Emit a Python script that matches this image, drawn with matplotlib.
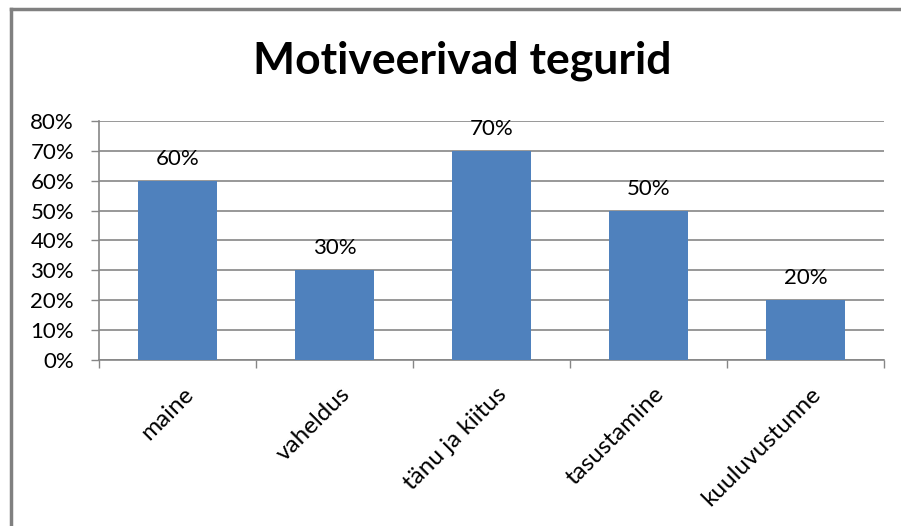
import matplotlib.pyplot as plt
from matplotlib.ticker import FuncFormatter
from matplotlib.lines import Line2D

# chart values
categories = ['maine', 'vaheldus', 'tänu ja kiitus', 'tasustamine', 'kuuluvustunne']
shares = [60, 30, 70, 50, 20]
y_ticks = [0, 10, 20, 30, 40, 50, 60, 70, 80]

BAR_COLOR = '#4F81BD'
GRID_COLOR = '#868686'

plt.rcParams['font.family'] = ['Lato', 'DejaVu Sans']

fig = plt.figure(figsize=(9.01, 5.26), dpi=100)
ax = fig.add_axes([0.110, 0.3156, 0.871, 0.4544])

x = list(range(len(categories)))
ax.bar(x, shares, width=0.5, color=BAR_COLOR, zorder=3)

for xi, v in zip(x, shares):
    ax.text(xi, v + 4, f'{v}%', ha='center', va='bottom', fontsize=16, zorder=4)

ax.set_xlim(-0.5, len(categories) - 0.5)
ax.set_ylim(0, 80)
ax.set_yticks(y_ticks)
ax.yaxis.set_major_formatter(FuncFormatter(lambda v, p: f'{v:.0f}%'))
ax.tick_params(axis='y', labelsize=16, length=6, width=1, color=GRID_COLOR, pad=12)
ax.yaxis.grid(True, color=GRID_COLOR, linewidth=1.2, zorder=0)

# category ticks sit on the boundaries between bars
ax.set_xticks([i - 0.5 for i in range(len(categories) + 1)], minor=False)
ax.set_xticklabels([])
ax.tick_params(axis='x', length=6, width=1, color=GRID_COLOR)
ax.set_xticks([i + 0.03 for i in x], minor=True)
ax.set_xticklabels(categories, minor=True, rotation=45, ha='right', va='top',
                   rotation_mode='anchor', fontsize=17.5)
ax.tick_params(axis='x', which='minor', length=0, pad=17)

for side in ['top', 'right']:
    ax.spines[side].set_visible(False)
for side in ['left', 'bottom']:
    ax.spines[side].set_color(GRID_COLOR)
    ax.spines[side].set_linewidth(1.2)

fig.text(0.513, 0.885, 'Motiveerivad tegurid', ha='center', va='center',
         fontsize=32, fontweight='bold')

# outer frame (top and left edges visible)
fig.add_artist(Line2D([0.0122, 0.0122], [0, 1 - 9 / 526], color='#808080', lw=2.5,
                      transform=fig.transFigure))
fig.add_artist(Line2D([0.0122, 1.0], [1 - 9 / 526, 1 - 9 / 526], color='#808080', lw=2.5,
                      transform=fig.transFigure))

fig.savefig('out.png', dpi=100)
